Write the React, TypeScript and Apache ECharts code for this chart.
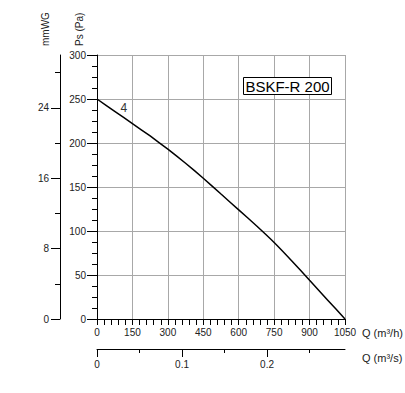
import React, { useEffect, useRef } from "react";
import * as echarts from "echarts";

const flowM3h = [0, 75, 150, 225, 300, 375, 450, 525, 600, 675, 750, 825, 900, 975, 1050];
const pressurePa = [250, 236, 222, 208, 193, 177, 160, 142, 124, 106, 87, 66, 44, 22, 0];

const qTicks = [0, 150, 300, 450, 600, 750, 900, 1050];
const paTicks = [0, 50, 100, 150, 200, 250, 300];
const mmwgLabels = [0, 8, 16, 24];
const mmwgMinor = [4, 12, 20, 28];
const m3sLabels = [0, 0.1, 0.2];
const m3sMinor = [0.05, 0.15, 0.25];

const curveName = "4";
const modelName = "BSKF-R 200";

const FONT = "'Liberation Sans', Arial, sans-serif";
const GRID = "#a8a8a8";
const INK = "#000";
const LABEL = "#222";

export default function App() {
  const ref = useRef<HTMLDivElement>(null);
  useEffect(() => {
    document.body.style.margin = "0";
    const chart = echarts.init(ref.current!, null, { renderer: "svg" });
    const qMax = qTicks[qTicks.length - 1];
    const paMax = paTicks[paTicks.length - 1];
    const line = () => ({ show: true, onZero: false, lineStyle: { color: INK, width: 1 } });
    const noLine = () => ({ show: false, onZero: false });
    chart.setOption({
      animation: false,
      textStyle: { fontFamily: FONT },
      grid: { left: 97, right: 60, top: 55, bottom: 74 },
      xAxis: [
        {
          type: "value",
          min: 0,
          max: qMax,
          interval: 150,
          position: "bottom",
          axisLine: line(),
          axisTick: { show: true, length: 6, lineStyle: { color: INK } },
          minorTick: { show: true, splitNumber: 5, length: 6, lineStyle: { color: INK } },
          splitLine: { show: true, lineStyle: { color: GRID, width: 1 } },
          axisLabel: { fontSize: 10, color: LABEL, margin: 8, fontFamily: FONT, formatter: (v: number) => String(v) },
        },
        {
          type: "value",
          min: 0,
          max: qMax / 3600,
          position: "bottom",
          offset: 30,
          axisLine: line(),
          axisTick: { show: true, length: 8, customValues: m3sLabels, lineStyle: { color: INK } },
          splitLine: { show: false },
          axisLabel: {
            fontSize: 10,
            color: LABEL,
            margin: 10,
            fontFamily: FONT,
            customValues: m3sLabels,
            formatter: (v: number) => String(Math.round(v * 100) / 100),
          },
        },
        {
          type: "value",
          min: 0,
          max: qMax / 3600,
          position: "bottom",
          offset: 30,
          axisLine: noLine(),
          axisTick: { show: true, length: 4, customValues: m3sMinor, lineStyle: { color: INK } },
          splitLine: { show: false },
          axisLabel: { show: false },
        },
      ],
      yAxis: [
        {
          type: "value",
          min: 0,
          max: paMax,
          interval: 50,
          position: "left",
          axisLine: line(),
          axisTick: { show: true, length: 10, lineStyle: { color: INK } },
          minorTick: { show: true, splitNumber: 4, length: 5, lineStyle: { color: INK } },
          splitLine: { show: true, lineStyle: { color: GRID, width: 1 } },
          axisLabel: { fontSize: 10, color: LABEL, margin: 11, fontFamily: FONT },
        },
        {
          type: "value",
          min: 0,
          max: paMax / 10,
          position: "left",
          offset: 37,
          axisLine: line(),
          axisTick: { show: true, length: 9, customValues: mmwgLabels, lineStyle: { color: INK } },
          splitLine: { show: false },
          axisLabel: { fontSize: 10, color: LABEL, margin: 11, fontFamily: FONT, customValues: mmwgLabels },
        },
        {
          type: "value",
          min: 0,
          max: paMax / 10,
          position: "left",
          offset: 37,
          axisLine: noLine(),
          axisTick: { show: true, length: 5, customValues: mmwgMinor, lineStyle: { color: INK } },
          splitLine: { show: false },
          axisLabel: { show: false },
        },
      ],
      series: [
        {
          type: "line",
          name: curveName,
          xAxisIndex: 0,
          yAxisIndex: 0,
          data: flowM3h.map((q, i) => [q, pressurePa[i]]),
          smooth: 0.15,
          showSymbol: false,
          lineStyle: { color: INK, width: 1.5 },
          markPoint: {
            symbol: "circle",
            symbolSize: 1,
            itemStyle: { color: "rgba(0,0,0,0)" },
            label: {
              show: true,
              position: "inside",
              formatter: curveName,
              fontSize: 12,
              color: "#333",
              fontFamily: FONT,
            },
            data: [{ coord: [114, 240] }],
          },
        },
      ],
      graphic: [
        {
          type: "text",
          x: 45,
          y: 46,
          rotation: Math.PI / 2,
          style: { text: "mmWG", fontSize: 10, fontFamily: FONT, fill: LABEL, align: "left", verticalAlign: "middle" },
        },
        {
          type: "text",
          x: 79,
          y: 46,
          rotation: Math.PI / 2,
          style: { text: "Ps (Pa)", fontSize: 10, fontFamily: FONT, fill: LABEL, align: "left", verticalAlign: "middle" },
        },
        {
          type: "text",
          x: 362,
          y: 333,
          style: { text: "Q (m³/h)", fontSize: 11, fontFamily: FONT, fill: LABEL, align: "left", verticalAlign: "middle" },
        },
        {
          type: "text",
          x: 362,
          y: 358,
          style: { text: "Q (m³/s)", fontSize: 11, fontFamily: FONT, fill: LABEL, align: "left", verticalAlign: "middle" },
        },
        {
          type: "rect",
          shape: { x: 243.5, y: 77.5, width: 88, height: 17 },
          style: { fill: "#fff", stroke: INK, lineWidth: 1 },
          z: 10,
        },
        {
          type: "text",
          x: 287.5,
          y: 86.5,
          z: 11,
          style: { text: modelName, fontSize: 15, fontFamily: FONT, fill: INK, align: "center", verticalAlign: "middle" },
        },
      ],
    });
    return () => chart.dispose();
  }, []);
  return <div ref={ref} style={{ width: 405, height: 393 }} />;
}
